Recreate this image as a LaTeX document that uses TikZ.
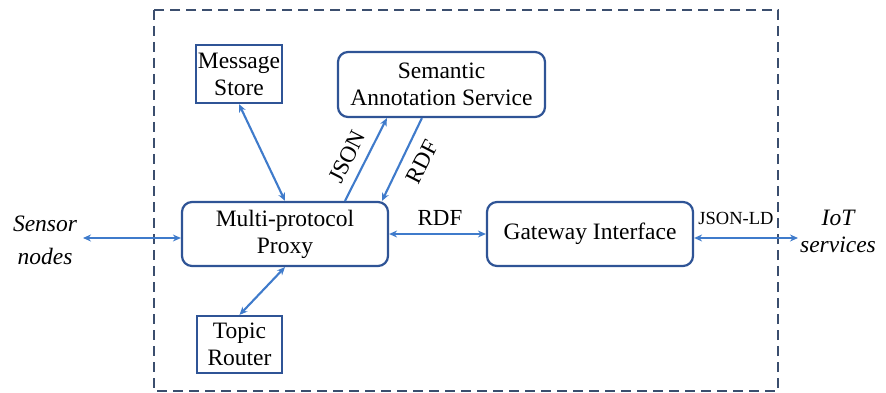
\documentclass[tikz,border=0pt]{standalone}
\usepackage{fontspec}
\setmainfont{Liberation Serif}
\usetikzlibrary{arrows.meta,calc}
\definecolor{boxc}{HTML}{2F5496}
\definecolor{arrc}{HTML}{3F7BCB}
\definecolor{framec}{HTML}{3B4E6E}
\tikzset{
  sqbox/.style={draw=boxc,line width=2.2pt,inner sep=0pt,align=center,font=\fontsize{23.5}{27}\selectfont},
  rbox/.style={sqbox,rounded corners=10pt},
  conn/.style={draw=arrc,line width=2.1pt},
  tip/.tip={Stealth[length=8pt,width=7pt]},
  lbl/.style={font=\fontsize{23}{27}\selectfont,inner sep=1pt},
}
\begin{document}
\begin{tikzpicture}[x=1pt,y=-1pt]
\useasboundingbox (0,0) rectangle (886,393);
\draw[framec,line width=2.2pt,dash pattern=on 10pt off 6pt] (154,10) rectangle (778,391);
\node[sqbox,minimum width=86pt,minimum height=58pt] (ms) at (239,74) {Message\\Store};
\node[rbox,minimum width=207pt,minimum height=65pt] (sas) at (441.5,84.5) {Semantic\\Annotation Service};
\node[rbox,minimum width=206pt,minimum height=64pt] (proxy) at (285,234) {Multi-protocol\\Proxy};
\node[sqbox,minimum width=85pt,minimum height=57pt] (tr) at (239.5,344.5) {Topic\\Router};
\node[rbox,minimum width=206pt,minimum height=64pt] (gw) at (590,234) {Gateway Interface};
\node[lbl,align=center,font=\itshape\fontsize{23.5}{33}\selectfont] (sn) at (45,240) {Sensor\\nodes};
\node[lbl,align=center,font=\itshape\fontsize{23.5}{27}\selectfont] (iot) at (838,231) {IoT\\services};
\coordinate (sl) at (83,238);
\coordinate (ir) at (798,238);
\draw[conn,{tip}-{tip}] (sl) -- ($(proxy.west)+(0,4)$);
\draw[conn,{tip}-{tip}] (ms.south) -- (proxy.north);
\draw[conn,{tip}-{tip}] (proxy.south) -- (tr.north);
\draw[conn,-{tip}] ($(proxy.north)+(60,0)$) -- ($(sas.south west)+(50,0)$);
\draw[conn,-{tip}] ($(sas.south west)+(85,0)$) -- ($(proxy.north)+(97,0)$);
\draw[conn,{tip}-{tip}] (proxy.east) -- (gw.west);
\draw[conn,{tip}-{tip}] ($(gw.east)+(0,4)$) -- (ir);
\node[lbl,rotate=63] (jl) at (347,157) {JSON};
\node[lbl,rotate=63] (rl) at (422,162) {RDF};
\node[lbl] (rh) at (440,218) {RDF};
\node[font=\fontsize{18.5}{22}\selectfont] (jld) at (736,218) {JSON-LD};
\end{tikzpicture}
\end{document}
